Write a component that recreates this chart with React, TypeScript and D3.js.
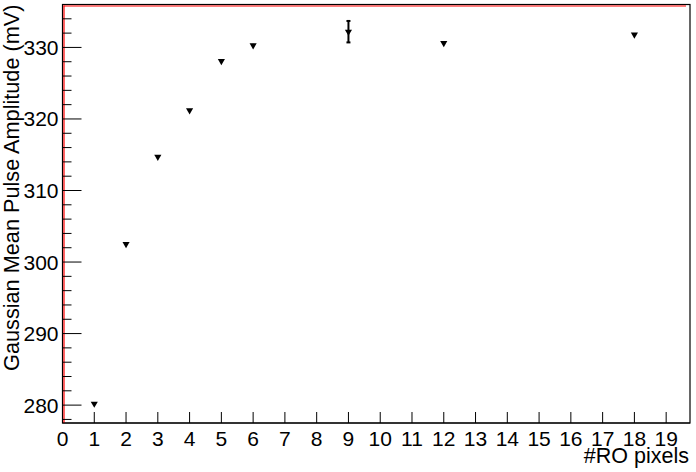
import React from "react";
import * as d3 from "d3";

// #RO pixels vs gaussian mean pulse amplitude (mV)
const roPixels = [1, 2, 3, 4, 5, 6, 9, 12, 18];
const amplitude = [280.2, 302.5, 314.7, 321.2, 328.1, 330.3, 332.2, 330.6, 331.8];
const amplitudeErr = [0.2, 0.2, 0.2, 0.2, 0.2, 0.2, 1.5, 0.2, 0.2];
const xTickValues = d3.range(0, 20);
const yTickValues = [280, 290, 300, 310, 320, 330];

const width = 696, height = 472;
const left = 62.5, right = 690, top = 4.5, bottom = 423;

const App = () => {
  const x = d3.scaleLinear().domain([0, 19.75]).range([left, right]);
  const y = d3.scaleLinear().domain([277.5, 336]).range([bottom, top]);

  const minorY = d3.range(278, 336, 2).filter(v => v % 10 !== 0);
  const font = "'Liberation Sans', Arial, sans-serif";
  const tri = d3.symbol().type(d3.symbolTriangle).size(22)();

  return (
    <svg width={width} height={height} style={{ position: "absolute", left: 0, top: 0, background: "white" }}
         fontFamily={font}>
      <rect x={0} y={0} width={width} height={height} fill="white" />
      {/* frame */}
      <rect x={left} y={top} width={right - left} height={bottom - top} fill="none" stroke="black" strokeWidth={1.2} />
      <line x1={left + 1.5} x2={left + 1.5} y1={top + 1} y2={bottom} stroke="red" strokeWidth={1.2} />
      <line x1={left + 1} x2={right - 4} y1={top + 1.5} y2={top + 1.5} stroke="red" strokeWidth={1.2} />
      <line x1={left} x2={right} y1={bottom} y2={bottom} stroke="black" strokeWidth={1.2} />

      {/* x axis */}
      {xTickValues.map(d => (
        <g key={"x" + d} transform={`translate(${x(d)},${bottom})`}>
          <line y1={0} y2={-11} stroke="black" />
          <text y={23} textAnchor="middle" fontSize={21}>{d}</text>
        </g>
      ))}
      <text x={689} y={463} textAnchor="end" fontSize={21.5}>#RO pixels</text>

      {/* y axis */}
      {yTickValues.map(d => (
        <g key={"y" + d} transform={`translate(${left},${y(d)})`}>
          <line x1={0} x2={19} stroke="black" />
          <text x={-4} y={7.5} textAnchor="end" fontSize={21}>{d}</text>
        </g>
      ))}
      {minorY.map(d => (
        <line key={"m" + d} x1={left} x2={left + 9} y1={y(d)} y2={y(d)} stroke="black" />
      ))}
      <text transform={`translate(19,${top}) rotate(-90)`} textAnchor="end" fontSize={21.7}>
        Gaussian Mean Pulse Amplitude (mV)
      </text>

      {/* points */}
      {roPixels.map((p, i) => (
        <g key={"p" + p}>
          <line x1={x(p)} x2={x(p)} y1={y(amplitude[i] - amplitudeErr[i])} y2={y(amplitude[i] + amplitudeErr[i])}
                stroke="black" strokeWidth={2} />
          {amplitudeErr[i] > 0.5 && (
            <g>
              <line x1={x(p) - 2} x2={x(p) + 2} y1={y(amplitude[i] + amplitudeErr[i])} y2={y(amplitude[i] + amplitudeErr[i])} stroke="black" strokeWidth={2} />
              <line x1={x(p) - 2} x2={x(p) + 2} y1={y(amplitude[i] - amplitudeErr[i])} y2={y(amplitude[i] - amplitudeErr[i])} stroke="black" strokeWidth={2} />
            </g>
          )}
          <path d={tri} transform={`translate(${x(p)},${y(amplitude[i])}) rotate(180)`} fill="black" />
        </g>
      ))}
    </svg>
  );
};

export default App;
